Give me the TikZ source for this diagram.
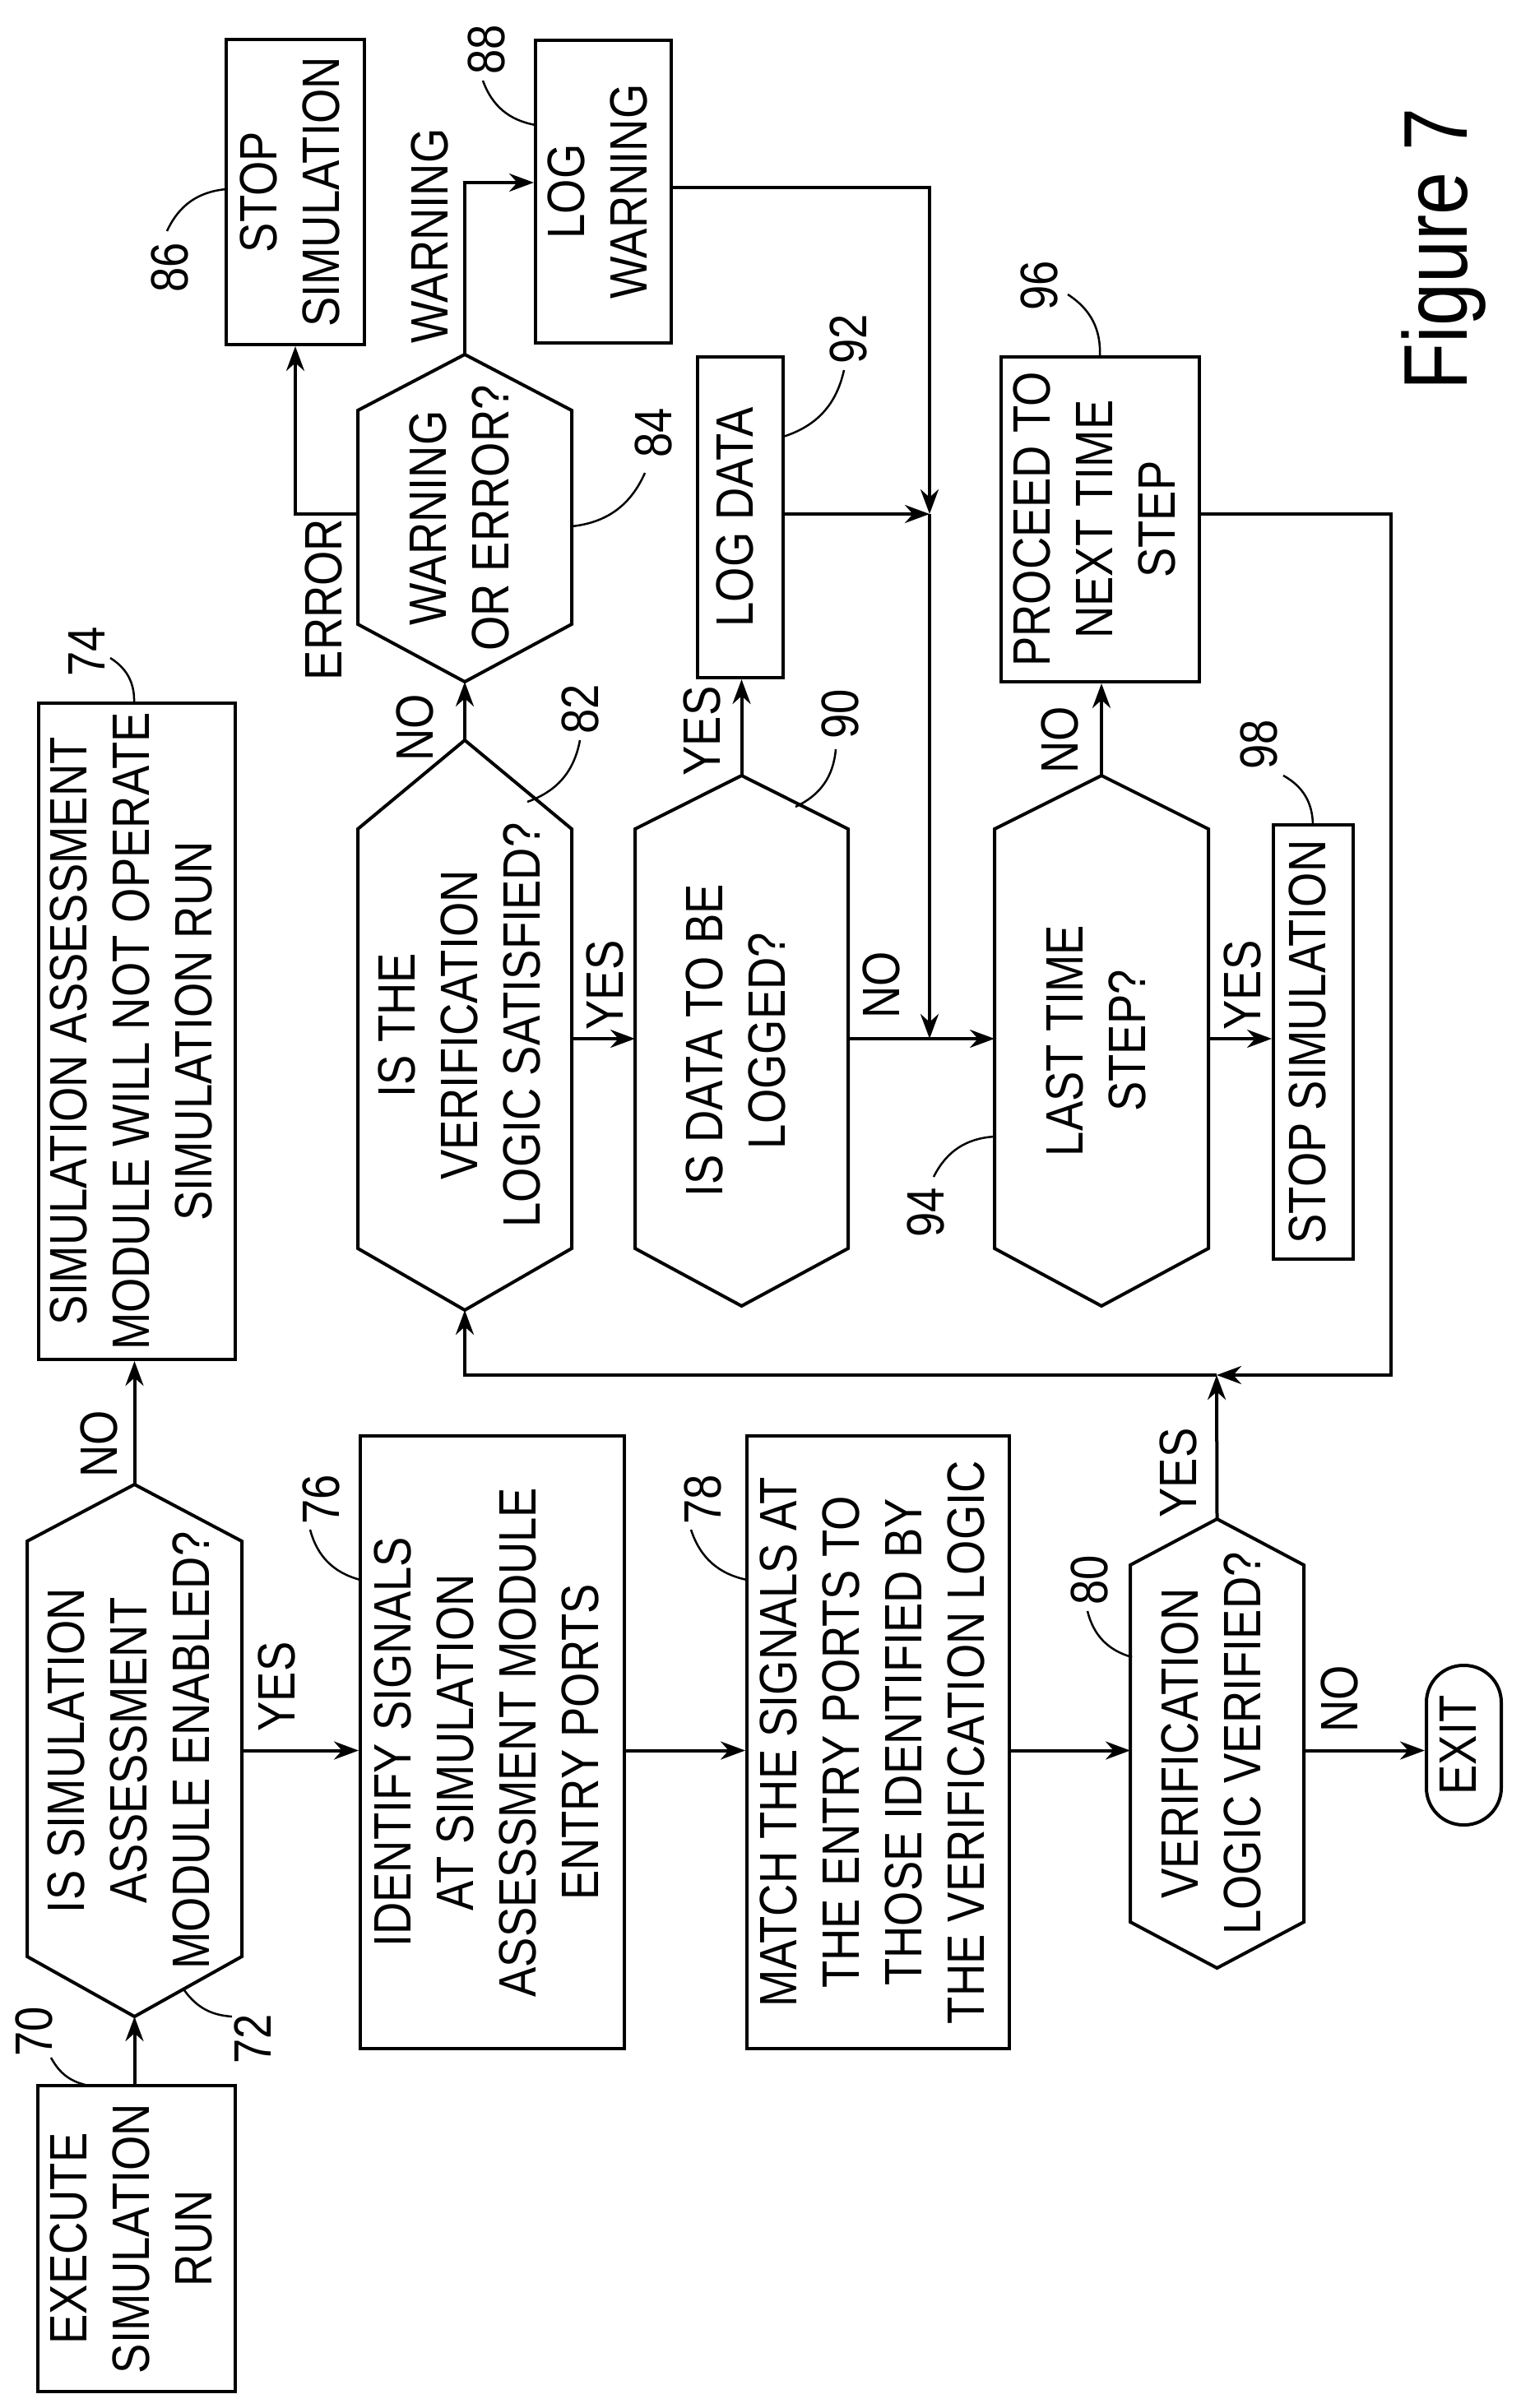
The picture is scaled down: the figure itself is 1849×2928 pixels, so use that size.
\documentclass[tikz,border=0pt]{standalone}
\usepackage{fontspec}
\setmainfont{Liberation Sans}[FakeStretch=0.85]
\usetikzlibrary{arrows.meta,calc}
\newcommand\rt[1]{\rotatebox{90}{\begin{tabular}{@{}c@{}}#1\end{tabular}}}
\newcommand\hexa[8]{%
  \pgfmathsetmacro\hcx{(#2+#3)/2}\pgfmathsetmacro\hcy{(#4+#7)/2}%
  \draw[ln] (#2,#5)--(\hcx,#4)--(#3,#5)--(#3,#6)--(\hcx,#7)--(#2,#6)--cycle;
  \node[txt] (#1) at (\hcx,\hcy) {\rt{#8}};
  \coordinate (#1-t) at (\hcx,#4); \coordinate (#1-b) at (\hcx,#7);
  \coordinate (#1-w) at (#2,\hcy); \coordinate (#1-e) at (#3,\hcy);}
\newcommand\bx[6]{%
  \node[box,minimum width={#4-#2},minimum height={#5-#3}] (#1) at ({(#2+#4)/2},{(#3+#5)/2}) {\rt{#6}};}
\begin{document}
\begin{tikzpicture}[x=1pt,y=-1pt,
  ln/.style={line width=4pt,line join=miter},
  txt/.style={inner sep=0pt,font=\fontsize{64}{76}\selectfont},
  box/.style={ln,draw,inner sep=0pt,font=\fontsize{64}{76}\selectfont},
  lab/.style={inner sep=0pt,font=\fontsize{64}{76}\selectfont,rotate=90},
  ar/.style={ln,-{Stealth[length=30pt,width=22pt]}},
  con/.style={ln},
  lead/.style={line width=2.5pt}]
\useasboundingbox (0,0) rectangle (1849,2928);
% boxes
\bx{b70}{46}{2536}{286}{2908}{EXECUTE\\SIMULATION\\RUN}
\bx{b74}{47}{855}{286}{1653}{SIMULATION ASSESSMENT\\MODULE WILL NOT OPERATE\\SIMULATION RUN}
\bx{b76}{438}{1746}{759}{2491}{IDENTIFY SIGNALS\\AT SIMULATION\\ASSESSMENT MODULE\\ENTRY PORTS}
\bx{b78}{908}{1746}{1227}{2491}{MATCH THE SIGNALS AT\\THE ENTRY PORTS TO\\THOSE IDENTIFIED BY\\THE VERIFICATION LOGIC}
\bx{b86}{275}{48}{443}{419}{STOP\\SIMULATION}
\bx{b88}{651}{49}{816}{417}{LOG\\WARNING}
\bx{b92}{848}{434}{952}{824}{LOG DATA}
\bx{b96}{1217}{434}{1458}{829}{PROCEED TO\\NEXT TIME\\STEP}
\bx{b98}{1548}{1003}{1645}{1531}{STOP SIMULATION}
\node[box,rounded corners=45pt,minimum width=91pt,minimum height=194pt] (exit) at (1779.5,2122) {\rt{EXIT}};
% decisions
\hexa{h72}{33}{294}{1805}{1874}{2379}{2452}{IS SIMULATION\\ASSESSMENT\\MODULE ENABLED?}
\hexa{h80}{1374}{1585}{1847}{1903}{2337}{2393}{VERIFICATION\\LOGIC VERIFIED?}
\hexa{h82}{435}{695}{900}{1008}{1518}{1593}{IS THE\\VERIFICATION\\LOGIC SATISFIED?}
\hexa{h84}{435}{695}{431}{499}{759}{829}{WARNING\\OR ERROR?}
\hexa{h90}{772}{1031}{943}{1008}{1518}{1588}{IS DATA TO BE\\LOGGED?}
\hexa{h94}{1209}{1469}{943}{1008}{1518}{1588}{LAST TIME\\STEP?}
% junction coordinates
\coordinate (j1) at (1130,625);
\coordinate (j2) at (1130,1263);
\coordinate (j3) at (1479,1672);
\coordinate (j4) at (1691,625);
% connectors
\draw[ar] (b70.north -| h72-b) -- (h72-b);
\draw[ar] (h72-t) -- (h72-t |- b74.south);
\draw[ar] (h72-e) -- (h72-e -| b76.west);
\draw[ar] (b76.east |- h72-e) -- (b78.west |- h72-e);
\draw[ar] (b78.east |- h72-e) -- (h80-w |- h72-e);
\draw[ar] (h80-e |- h72-e) -- (exit.west |- h72-e);
\draw[ar] (h80-t) -- (j3);
\draw[ar] (b96.east |- j4) -- (j4) |- (j3);
\draw[ar] (j3) -| (h82-b);
\draw[ar] (h82-t) -- (h84-b);
\draw[ar] (h84-w |- j1) -| (b86.south);
\draw[ar] (h84-t) |- (b88.west |- 0,222);
\draw[ar] (b88.east |- 0,228) -| (j1);
\draw[ar] (b92.east |- j1) -- (j1);
\draw[ar] (j1) -- (j2);
\draw[ar] (h82-e |- j2) -- (h90-w |- j2);
\draw[ar] (h90-e |- j2) -- (h94-w |- j2);
\draw[ar] (h90-t) -- (h90-t |- b92.south);
\draw[ar] (h94-t) -- (h94-t |- b96.south);
\draw[ar] (h94-e |- j2) -- (b98.west |- j2);
% branch labels
\node[lab] (l1) at (120,1756) {NO};
\node[lab] (l2) at (336,2051) {YES};
\node[lab] (l3) at (1432,1791) {YES};
\node[lab] (l4) at (1628,2066) {NO};
\node[lab] (l5) at (504,885) {NO};
\node[lab] (l6) at (393,729) {ERROR};
\node[lab] (l7) at (522,287) {WARNING};
\node[lab] (l8) at (735,1198) {YES};
\node[lab] (l9) at (853,889) {YES};
\node[lab] (l10) at (1071,1198) {NO};
\node[lab] (l11) at (1288,900) {NO};
\node[lab] (l12) at (1510,1198) {YES};
% reference numerals
\node[lab] (n70) at (41,2470) {70};
\draw[lead] (62,2502) to[bend right=25] (108,2536);
\node[lab] (n72) at (307,2479) {72};
\draw[lead] (282,2452) to[bend left=25] (224,2420);
\node[lab] (n74) at (105,792) {74};
\draw[lead] (134,800) to[bend left=30] (163,855);
\node[lab] (n76) at (390,1823) {76};
\draw[lead] (377,1860) to[bend right=30] (438,1921);
\node[lab] (n78) at (854,1823) {78};
\draw[lead] (840,1860) to[bend right=30] (908,1921);
\node[lab] (n80) at (1324,1921) {80};
\draw[lead] (1322,1959) to[bend right=30] (1376,2015);
\node[lab] (n82) at (705,862) {82};
\draw[lead] (705,900) to[bend left=30] (641,975);
\node[lab] (n84) at (794,526) {84};
\draw[lead] (784,575) to[bend left=30] (695,640);
\node[lab] (n86) at (206,325) {86};
\draw[lead] (203,281) to[bend left=30] (275,230);
\node[lab] (n88) at (591,60) {88};
\draw[lead] (587,98) to[bend right=30] (651,152);
\node[lab] (n90) at (1021,868) {90};
\draw[lead] (1016,911) to[bend left=30] (967,981);
\node[lab] (n92) at (1031,412) {92};
\draw[lead] (1026,450) to[bend left=30] (952,531);
\node[lab] (n94) at (1125,1474) {94};
\draw[lead] (1135,1431) to[bend left=30] (1209,1382);
\node[lab] (n96) at (1263,347) {96};
\draw[lead] (1298,358) to[bend left=30] (1337,434);
\node[lab] (n98) at (1530,905) {98};
\draw[lead] (1560,943) to[bend left=30] (1596,1003);
\node[lab,font=\fontsize{110}{120}\selectfont] (fig) at (1755,303) {Figure 7};
\end{tikzpicture}
\end{document}
